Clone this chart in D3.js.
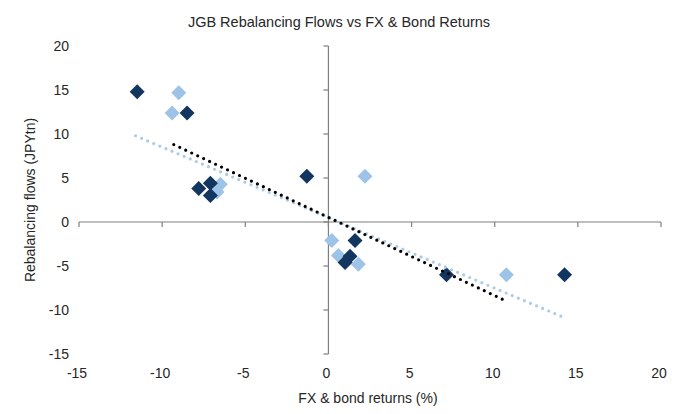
<!DOCTYPE html>
<html>
<head>
<meta charset="utf-8">
<script src="https://cdn.jsdelivr.net/npm/d3@7"></script>
<style>
  body { margin: 0; background: #fff; }
  text { font-family: "Liberation Sans", Arial, sans-serif; fill: #262626; }
</style>
</head>
<body>
<div class="chart"></div>
<script>
// dark series (navy diamonds)
const darkX = [-11.5, -8.5, -7.8, -7.1, -7.1, -1.3, 1.6, 1.3, 1.0, 7.1, 14.2];
const darkY = [14.8, 12.4, 3.8, 4.4, 3.0, 5.2, -2.1, -3.9, -4.6, -6.0, -6.0];
// light series (pale blue diamonds)
const lightX = [-9.0, -9.4, -6.5, -6.7, 2.2, 0.2, 0.6, 1.8, 10.7];
const lightY = [14.7, 12.4, 4.3, 3.4, 5.2, -2.1, -3.8, -4.8, -6.0];
// trendline end points
const lightTrendX = [-11.6, 14.1];
const lightTrendY = [9.8, -10.8];
const blackTrendX = [-9.3, 10.6];
const blackTrendY = [8.8, -8.9];

const xTicks = [-15, -10, -5, 0, 5, 10, 15, 20];
const yTicks = [-15, -10, -5, 0, 5, 10, 15, 20];

const width = 678, height = 414;
const svg = d3.select(".chart").append("svg")
  .attr("width", width)
  .attr("height", height);

const x = d3.scaleLinear().domain([-15, 20]).range([79, 661]);
const y = d3.scaleLinear().domain([-15, 20]).range([354, 46]);

const axisColor = "#7f7f7f";

// x axis line sits at y = 0, ticks point down
svg.append("line")
  .attr("x1", x(-15)).attr("x2", x(20))
  .attr("y1", y(0)).attr("y2", y(0))
  .attr("stroke", axisColor).attr("stroke-width", 1.2);
svg.selectAll(".xtick").data(xTicks).enter().append("line")
  .attr("x1", d => x(d)).attr("x2", d => x(d))
  .attr("y1", y(0)).attr("y2", y(0) + 5)
  .attr("stroke", axisColor).attr("stroke-width", 1.2);
svg.selectAll(".xlab").data(xTicks).enter().append("text")
  .attr("x", d => x(d) - 2)
  .attr("y", 378)
  .attr("text-anchor", "middle")
  .attr("font-size", 14)
  .text(d => d);

// y axis line sits at x = 0, ticks point left
svg.append("line")
  .attr("x1", x(0)).attr("x2", x(0))
  .attr("y1", y(20)).attr("y2", y(-15))
  .attr("stroke", axisColor).attr("stroke-width", 1.2);
svg.selectAll(".ytick").data(yTicks).enter().append("line")
  .attr("x1", x(0) - 5).attr("x2", x(0))
  .attr("y1", d => y(d)).attr("y2", d => y(d))
  .attr("stroke", axisColor).attr("stroke-width", 1.2);
svg.selectAll(".ylab").data(yTicks).enter().append("text")
  .attr("x", 69)
  .attr("y", d => y(d) + 5)
  .attr("text-anchor", "end")
  .attr("font-size", 14)
  .text(d => d);

// titles
svg.append("text")
  .attr("x", 339).attr("y", 27)
  .attr("text-anchor", "middle")
  .attr("font-size", 14.5)
  .text("JGB Rebalancing Flows vs FX & Bond Returns");
svg.append("text")
  .attr("x", 368).attr("y", 403)
  .attr("text-anchor", "middle")
  .attr("font-size", 14)
  .text("FX & bond returns (%)");
svg.append("text")
  .attr("transform", "translate(35,200) rotate(-90)")
  .attr("text-anchor", "middle")
  .attr("font-size", 14)
  .text("Rebalancing flows (JPYtn)");

function diamond(r) {
  return "M0," + (-r) + "L" + r + ",0L0," + r + "L" + (-r) + ",0Z";
}

function drawPoints(xs, ys, color) {
  svg.append("g").selectAll("path").data(xs).enter().append("path")
    .attr("d", diamond(7.5))
    .attr("transform", (d, i) => "translate(" + x(d) + "," + y(ys[i]) + ")")
    .attr("fill", color);
}
drawPoints(lightX, lightY, "#9dc3e6");
drawPoints(darkX, darkY, "#12365f");

function drawTrend(xs, ys, color) {
  const line = d3.line()
    .x(d => x(d[0]))
    .y(d => y(d[1]));
  svg.append("path")
    .datum(xs.map((d, i) => [d, ys[i]]))
    .attr("d", line)
    .attr("stroke", color)
    .attr("stroke-width", 3.2)
    .attr("stroke-linecap", "round")
    .attr("stroke-dasharray", "0,6.6")
    .attr("fill", "none");
}
drawTrend(lightTrendX, lightTrendY, "#abcae4");
drawTrend(blackTrendX, blackTrendY, "#000000");
</script>
</body>
</html>
